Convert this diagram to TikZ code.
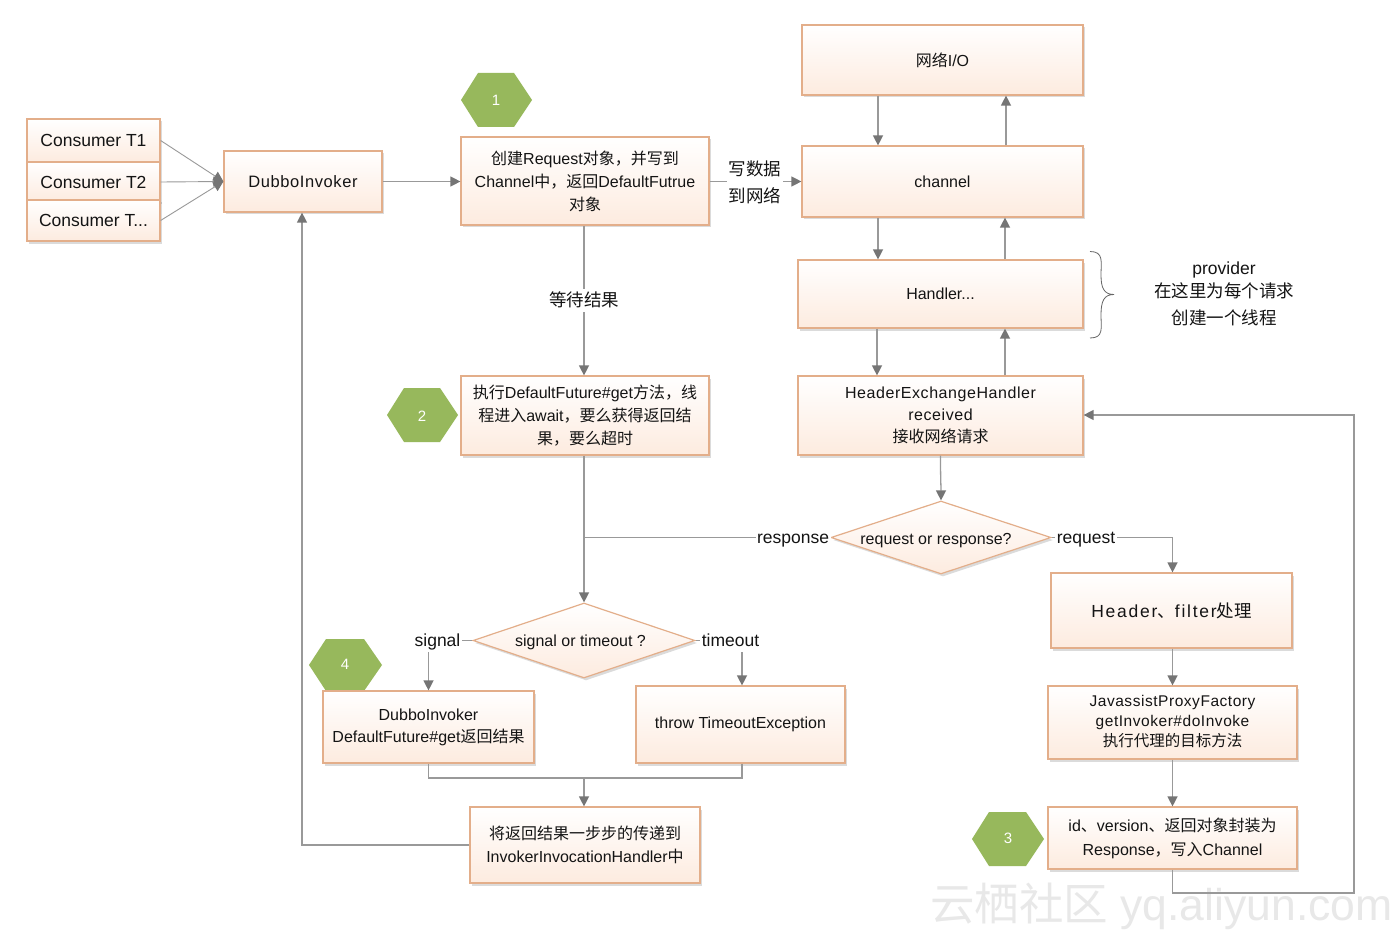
\documentclass[tikz,border=0pt]{standalone}
\usepackage{fontspec}
\setmainfont{Liberation Sans}
\newfontfamily\cjk{Noto Sans CJK SC}
\newfontfamily\wideface[LetterSpace=3.5]{Liberation Sans}
\newfontfamily\widerface[LetterSpace=10]{Liberation Sans}
\newcommand{\zh}[1]{{\cjk #1}}
\usetikzlibrary{arrows.meta,shapes.geometric,shadows}
\definecolor{edgec}{HTML}{E3AE8A}
\definecolor{peach}{HTML}{FDEBDF}
\definecolor{linec}{HTML}{999999}
\definecolor{tipc}{HTML}{757575}
\definecolor{hexc}{HTML}{97B85C}
\definecolor{textc}{HTML}{141414}
\tikzset{
  flowbox/.style={draw=edgec,line width=1.2pt,top color=white,bottom color=peach,
    drop shadow={shadow xshift=2pt,shadow yshift=-2.5pt,fill=black,opacity=.14},
    align=center,inner sep=0pt,text=textc,font=\fontsize{16}{23}\selectfont},
  flowdiamond/.style={flowbox,diamond,aspect=3},
  arr/.style={draw=linec,line width=1.3pt,-{Triangle[length=10pt,width=10pt,fill=tipc,color=tipc]}},
  plainline/.style={draw=linec,line width=1.3pt},
  conn/.style={fill=white,inner sep=1.5pt,text=textc,align=center,font=\fontsize{17.5}{27}\selectfont},
  oneline/.style={conn,text height=16pt,text depth=4pt},
  hexfill/.style={fill=hexc},
  hexlabel/.style={text=white,inner sep=0pt,font=\fontsize{15}{18}\selectfont},
  freetext/.style={text=textc,align=center,inner sep=0pt,text height=16pt,text depth=4pt,font=\fontsize{17.5}{26}\selectfont},
  mark text/.style={text=black!9,inner sep=0pt,font=\fontsize{44.5}{50}\selectfont},
}
\begin{document}
\begin{tikzpicture}[x=1pt,y=-1pt]
\useasboundingbox (0,0) rectangle (1400,936);
\fill[white] (0,0) rectangle (1400,936);

% watermark
\node[mark text,anchor=west] (wm) at (930,906) {\zh{云栖社区} yq.aliyun.com};

% consumers
\node[flowbox,minimum width=133pt,minimum height=43pt,font=\fontsize{17.5}{22}\selectfont] (t1) at (93.5,140.5) {Consumer T1};
\node[flowbox,minimum width=133pt,minimum height=40pt,font=\fontsize{17.5}{22}\selectfont] (t2) at (93.5,182) {Consumer T2};
\node[flowbox,minimum width=133pt,minimum height=41pt,font=\fontsize{17.5}{22}\selectfont] (t3) at (93.5,220.5) {Consumer T...};

\node[flowbox,minimum width=158pt,minimum height=61pt,font=\wideface\fontsize{16.5}{22}\selectfont] (dubbo) at (303,181.5) {DubboInvoker};

\node[flowbox,minimum width=248pt,minimum height=88pt] (create) at (585,181)
  {\zh{创建}Request\zh{对象，并写到}\\Channel\zh{中，返回}DefaultFutrue\\\zh{对象}};
\node[flowbox,minimum width=281pt,minimum height=70pt] (net) at (942.5,60) {\zh{网络}I/O};
\node[flowbox,minimum width=281pt,minimum height=71pt] (chan) at (942.5,181.5) {channel};
\node[flowbox,minimum width=285pt,minimum height=68pt] (handler) at (940.5,294) {Handler...};
\node[flowbox,minimum width=285pt,minimum height=79pt,font=\wideface\fontsize{16}{22}\selectfont] (heh) at (940.5,415.5)
  {HeaderExchangeHandler\\received\\\zh{接收网络请求}};
\node[flowbox,minimum width=248pt,minimum height=79pt] (exec) at (585,415.5)
  {\zh{执行}DefaultFuture\#get\zh{方法，线}\\\zh{程进入}await\zh{，要么获得返回结}\\\zh{果，要么超时}};

\node[flowdiamond,minimum width=220pt,minimum height=73pt,text height=13pt,text depth=0pt] (req) at (941,537.5) {request or response?\hspace*{10pt}};
\node[flowdiamond,minimum width=222pt,minimum height=75pt,text height=11pt,text depth=0pt] (sig) at (584,640.5) {signal or timeout ?\hspace*{7pt}};

% hexagon 4 lies behind the box below it
\fill[hexfill] (309,665)--(326,639)--(364,639)--(382,665)--(364,691)--(326,691)--cycle;
\node[hexlabel] (h4) at (345,664) {4};

\node[flowbox,minimum width=211pt,minimum height=72pt,font=\fontsize{16}{22}\selectfont] (get) at (428.5,727)
  {DubboInvoker\\DefaultFuture\#get\zh{返回结果}};
\node[flowbox,minimum width=209pt,minimum height=77pt] (throw) at (740.5,724.5) {throw TimeoutException};
\node[flowbox,minimum width=241pt,minimum height=75pt,font=\widerface\fontsize{17.5}{22}\selectfont] (hf) at (1171.5,610.5) {Header\zh{、}filter\zh{处理}};
\node[flowbox,minimum width=249pt,minimum height=73pt,font=\wideface\fontsize{15.5}{20}\selectfont] (jav) at (1172.5,722.5)
  {JavassistProxyFactory\\getInvoker\#doInvoke\\\zh{执行代理的目标方法}\rule[-4pt]{0pt}{4pt}};
\node[flowbox,minimum width=249pt,minimum height=62pt,font=\fontsize{16}{24}\selectfont] (idbox) at (1172.5,838)
  {id\zh{、}version\zh{、返回对象封装为}\\Response\zh{，写入}Channel};
\node[flowbox,minimum width=230pt,minimum height=76pt] (ret) at (585,845)
  {\zh{将返回结果一步步的传递到}\\InvokerInvocationHandler\zh{中}};

% hexagons
\fill[hexfill] (461,100)--(478,73)--(514,73)--(532,100)--(514,127)--(478,127)--cycle;
\node[hexlabel] (h1) at (496,100) {1};
\fill[hexfill] (387,415)--(404,388)--(440,388)--(458,415)--(440,442)--(404,442)--cycle;
\node[hexlabel] (h2) at (422,416) {2};
\fill[hexfill] (972,839)--(989,812)--(1026,812)--(1044,839)--(1026,866)--(989,866)--cycle;
\node[hexlabel] (h3) at (1008,838) {3};

% connectors
\draw[arr,line width=.9pt] (t1.east) -- (dubbo.west);
\draw[arr,line width=.9pt] (t2.east) -- (dubbo.west);
\draw[arr,line width=.9pt] (t3.east) -- (dubbo.west);
\draw[arr] (dubbo.east) -- (dubbo.east -| create.west);
\draw[arr] (create.east |- chan.west) -- (chan.west);
\draw[arr] ([xshift=-64.5pt]net.south) -- ([xshift=-64.5pt]chan.north);
\draw[arr] ([xshift=63.5pt]chan.north) -- ([xshift=63.5pt]net.south);
\draw[arr] ([xshift=-64.5pt]chan.south) -- ([xshift=-62.5pt]handler.north);
\draw[arr] ([xshift=64.5pt]handler.north) -- ([xshift=62.5pt]chan.south);
\draw[arr] ([xshift=-63.5pt]handler.south) -- ([xshift=-63.5pt]heh.north);
\draw[arr] ([xshift=64.5pt]heh.north) -- ([xshift=64.5pt]handler.south);
\draw[arr] ([xshift=-1pt]create.south) -- ([xshift=-1pt]exec.north);
\draw[arr] ([xshift=-1pt]exec.south) -- (sig.north);
\draw[plainline] (req.west) -- (req.west -| sig.north);
\draw[arr] (heh.south) .. controls (940.5,480) and (941,485) .. (req.north);
\draw[arr] (req.east) -| ([xshift=1pt]hf.north);
\draw[arr] (sig.west) -| (get.north);
\draw[arr] (sig.east) -| ([xshift=1.5pt]throw.north);
\coordinate (join) at (584,778);
\draw[arr] (get.south) |- (join) -- ([xshift=-1pt]ret.north);
\draw[plainline] ([xshift=1.5pt]throw.south) |- (join);
\draw[arr] (ret.west) -| ([xshift=-1pt]dubbo.south);
\draw[arr] ([xshift=1pt]hf.south) -- (jav.north);
\draw[arr] (jav.south) -- (idbox.north);
\coordinate (rtA) at (1354,893);
\draw[arr] (idbox.south) |- (rtA) |- ([yshift=.5pt]heh.east);

% connector labels
\node[conn] (lw) at (755,182) {\zh{写数据}\\\zh{到网络}};
\node[oneline] (lwait) at (584,300) {\zh{等待结果}};
\node[oneline] (lresp) at (793,537) {response};
\node[oneline] (lreq) at (1086,537) {request};
\node[oneline] (lsig) at (437.5,640) {signal};
\node[oneline] (ltime) at (730.5,640) {timeout};

% brace
\draw[black!60,line width=.8pt] (1090,251.5) .. controls (1104,251.5) and (1101,262) .. (1101,275)
  .. controls (1101,288) and (1104,294.5) .. (1114,294.5)
  .. controls (1104,294.5) and (1101,301) .. (1101,315)
  .. controls (1101,328) and (1104,338) .. (1090,338);
\node[freetext] (prov1) at (1224,268) {provider};
\node[freetext] (prov2) at (1224,291) {\zh{在这里为每个请求}};
\node[freetext] (prov3) at (1224,318) {\zh{创建一个线程}};
\end{tikzpicture}
\end{document}
